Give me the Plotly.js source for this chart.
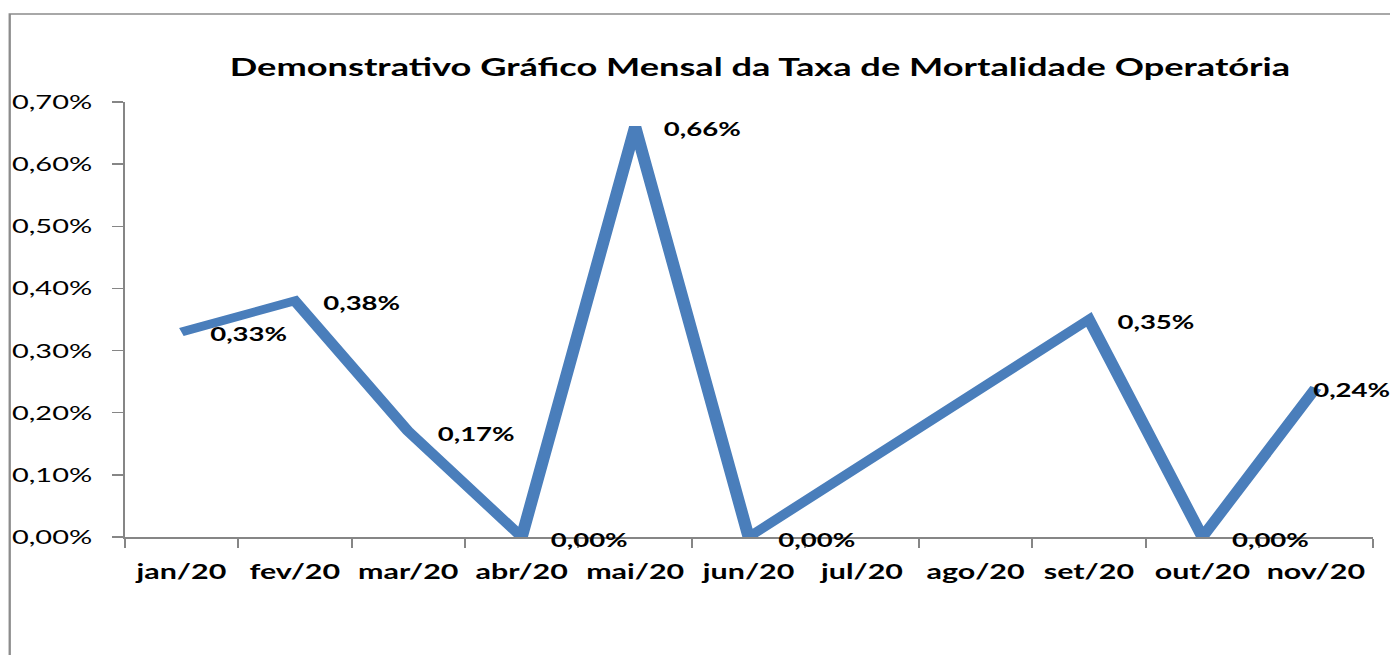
<!DOCTYPE html>
<html>
<head>
<meta charset="utf-8">
<script src="https://cdn.plot.ly/plotly-3.0.1.min.js"></script>
<style>
  html, body { margin: 0; padding: 0; background: #ffffff; overflow: hidden; }
  #wrap { width: 1390px; height: 655px; overflow: hidden; position: relative; }
  #chart { width: 959px; height: 655px; transform: scaleX(1.4494); transform-origin: 0 0; }
</style>
</head>
<body>
<div id="wrap"><div id="chart"></div></div>
<script>
// ---- data (values in percent) ----
const months = ["jan/20", "fev/20", "mar/20", "abr/20", "mai/20", "jun/20",
                "jul/20", "ago/20", "set/20", "out/20", "nov/20"];
const mortalityRate = [0.33, 0.38, 0.17, 0.00, 0.66, 0.00, null, null, 0.35, 0.00, 0.24];
const yTickValues = [0, 0.1, 0.2, 0.3, 0.4, 0.5, 0.6, 0.7];
const chartTitle = "Demonstrativo Gráfico Mensal da Taxa de Mortalidade Operatória";

// ---- layout geometry (Plotly coords; page is stretched horizontally) ----
const S = 1.4494;
const W = 959, H = 655;
const M = { l: 86.2, r: 11.7, t: 102, b: 118 };
const plotW = W - M.l - M.r, plotH = H - M.t - M.b;
const px2paperX = px => (px - M.l) / plotW;
const px2paperY = py => (H - M.b - py) / plotH;

const fmt = v => v.toFixed(2).replace('.', ',') + '%';

const annotations = [];
mortalityRate.forEach((v, i) => {
  if (v === null) return;
  const last = i === mortalityRate.length - 1;
  annotations.push({
    x: months[i], y: v, xref: 'x', yref: 'y',
    text: fmt(v), showarrow: false,
    xanchor: 'left', yanchor: 'middle',
    xshift: last ? -4 : 18, yshift: -2,
    font: { family: 'Lato, sans-serif', size: 19, color: '#000000', weight: 700 }
  });
});

const trace = {
  type: 'scatter', mode: 'lines',
  x: months, y: mortalityRate,
  connectgaps: true,
  line: { color: '#4A7EBB', width: 8.5 },
  hoverinfo: 'skip'
};

const layout = {
  width: W, height: H,
  margin: M,
  paper_bgcolor: '#ffffff', plot_bgcolor: '#ffffff',
  separators: ',.',
  showlegend: false,
  title: {
    text: chartTitle,
    x: 760 / 1390, xref: 'container', xanchor: 'center',
    y: 1 - 67 / 655, yref: 'container', yanchor: 'middle',
    font: { family: 'Lato, sans-serif', size: 25, color: '#000000', weight: 700 }
  },
  xaxis: {
    type: 'category',
    range: [-0.5, months.length - 0.5],
    tickson: 'boundaries',
    tickangle: 0,
    ticks: 'outside', ticklen: 9, tickwidth: 1.4, tickcolor: '#868686',
    showline: true, linecolor: '#868686', linewidth: 2,
    showgrid: false, zeroline: false,
    ticklabelstandoff: 15,
    tickfont: { family: 'Lato, sans-serif', size: 21, color: '#000000', weight: 700 },
    fixedrange: true
  },
  yaxis: {
    range: [0, 0.7],
    tickmode: 'array',
    tickvals: yTickValues,
    ticktext: yTickValues.map(fmt),
    ticks: 'outside', ticklen: 7, tickwidth: 1.4, tickcolor: '#868686',
    showline: true, linecolor: '#868686', linewidth: 1.4,
    showgrid: false, zeroline: false,
    ticklabelstandoff: 10,
    tickfont: { family: 'Lato, sans-serif', size: 20, color: '#000000' },
    fixedrange: true
  },
  shapes: [{
    type: 'path', xref: 'paper', yref: 'paper',
    path: `M ${px2paperX(10 / S)},${px2paperY(700)} L ${px2paperX(10 / S)},${px2paperY(14)} L ${px2paperX(1000)},${px2paperY(14)}`,
    line: { color: '#8C8C8C', width: 1.6 },
    layer: 'below'
  }],
  annotations: annotations
};

Plotly.newPlot('chart', [trace], layout, { displayModeBar: false, staticPlot: true });
</script>
</body>
</html>
